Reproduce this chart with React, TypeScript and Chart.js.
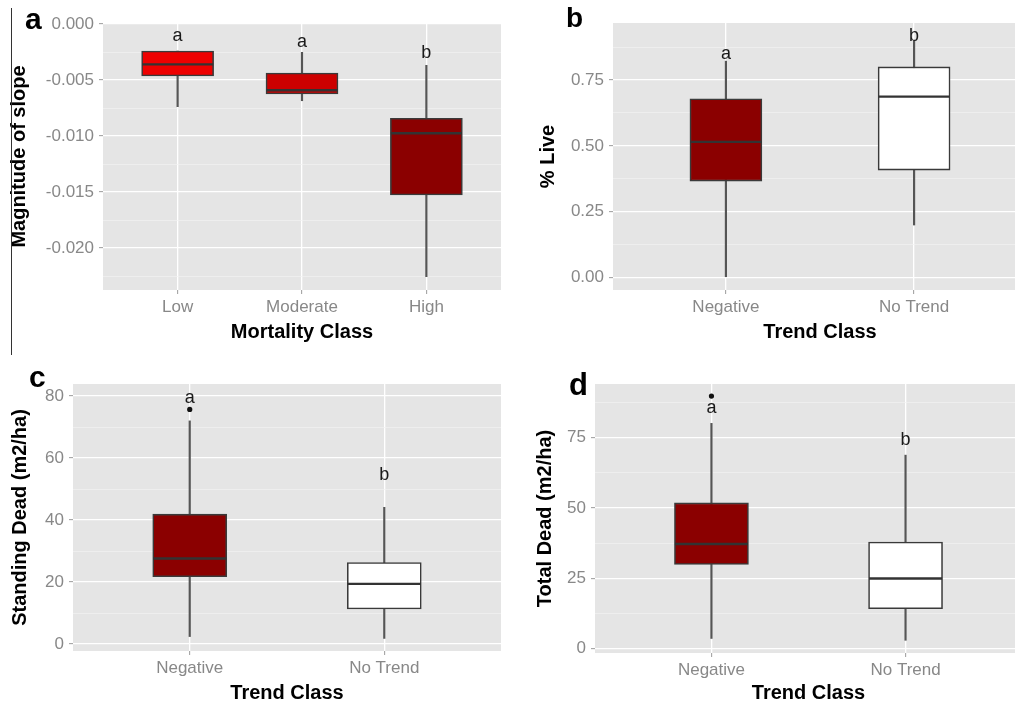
import React, { useEffect, useRef } from "react";
import { Chart, registerables } from "chart.js";

Chart.register(...registerables);

const FONT = "'Liberation Sans', Arial, Helvetica, sans-serif";

// ---- (a) magnitude of slope by mortality class ----
const mortalityClasses = ["Low", "Moderate", "High"];
const slopeWhiskerLow = [-0.00738, -0.00685, -0.02256];
const slopeQ1 = [-0.00464, -0.00625, -0.01527];
const slopeMedian = [-0.0036, -0.00592, -0.00976];
const slopeQ3 = [-0.00241, -0.004375, -0.00842];
const slopeWhiskerHigh = [-0.00241, -0.00253, -0.00369];
const slopeLetters = ["a", "a", "b"];
const slopeLetterY = [-0.00107, -0.00158, -0.00256];
const slopeFills = ["#EE0000", "#CD0000", "#8B0000"];
const slopeTicks = [0, -0.005, -0.01, -0.015, -0.02];
const slopeMinorTicks = [-0.0025, -0.0075, -0.0125, -0.0175, -0.0225];

// ---- shared trend classes for (b), (c), (d) ----
const trendClasses = ["Negative", "No Trend"];
const trendFills = ["#8B0000", "#FFFFFF"];

// ---- (b) % live ----
const liveWhiskerLow = [0.0, 0.199];
const liveQ1 = [0.366, 0.408];
const liveMedian = [0.515, 0.687];
const liveQ3 = [0.679, 0.8];
const liveWhiskerHigh = [0.822, 0.9];
const liveLetters = ["a", "b"];
const liveLetterY = [0.848, 0.917];
const liveTicks = [0, 0.25, 0.5, 0.75];
const liveMinorTicks = [0.125, 0.375, 0.625, 0.875];

// ---- (c) standing dead ----
const standingWhiskerLow = [2.4, 1.8];
const standingQ1 = [21.7, 11.3];
const standingMedian = [27.6, 19.4];
const standingQ3 = [41.9, 26.3];
const standingWhiskerHigh = [72.0, 44.1];
const standingOutliers = [{ x: 0, y: 75.7 }];
const standingLetters = ["a", "b"];
const standingLetterY = [79.3, 54.5];
const standingTicks = [0, 20, 40, 60, 80];
const standingMinorTicks = [10, 30, 50, 70];

// ---- (d) total dead ----
const totalWhiskerLow = [3.6, 2.95];
const totalQ1 = [29.9, 14.2];
const totalMedian = [37.2, 24.9];
const totalQ3 = [51.8, 37.9];
const totalWhiskerHigh = [80.1, 68.8];
const totalOutliers = [{ x: 0, y: 89.8 }];
const totalLetters = ["a", "b"];
const totalLetterY = [85.4, 74.1];
const totalTicks = [0, 25, 50, 75];
const totalMinorTicks = [12.5, 37.5, 62.5, 87.5];

type Frame = {
  left: number;
  top: number;
  w: number;
  h: number;
  padTop: number;
  padRight: number;
  yAxisWidth: number;
  xAxisHeight: number;
  yTitlePad: number;
  xTitlePad: number;
  boxWidth: number;
};

type PanelSpec = {
  categories: string[];
  lo: number[];
  q1: number[];
  med: number[];
  q3: number[];
  hi: number[];
  outliers: { x: number; y: number }[];
  letters: string[];
  letterY: number[];
  fills: string[];
  majorTicks: number[];
  minorTicks: number[];
  yMin: number;
  yMax: number;
  fmt: (v: number) => string;
  yTitle: string;
  xTitle: string;
  frame: Frame;
};

const panelA: PanelSpec = {
  categories: mortalityClasses,
  lo: slopeWhiskerLow,
  q1: slopeQ1,
  med: slopeMedian,
  q3: slopeQ3,
  hi: slopeWhiskerHigh,
  outliers: [],
  letters: slopeLetters,
  letterY: slopeLetterY,
  fills: slopeFills,
  majorTicks: slopeTicks,
  minorTicks: slopeMinorTicks,
  yMin: -0.02375,
  yMax: 0.00009,
  fmt: (v) => v.toFixed(3),
  yTitle: "Magnitude of slope",
  xTitle: "Mortality Class",
  frame: { left: 0, top: 0, w: 505, h: 355, padTop: 23, padRight: 4, yAxisWidth: 103, xAxisHeight: 65, yTitlePad: 7.5, xTitlePad: 11, boxWidth: 72 },
};

const panelB: PanelSpec = {
  categories: trendClasses,
  lo: liveWhiskerLow,
  q1: liveQ1,
  med: liveMedian,
  q3: liveQ3,
  hi: liveWhiskerHigh,
  outliers: [],
  letters: liveLetters,
  letterY: liveLetterY,
  fills: trendFills,
  majorTicks: liveTicks,
  minorTicks: liveMinorTicks,
  yMin: -0.048,
  yMax: 0.967,
  fmt: (v) => v.toFixed(2),
  yTitle: "% Live",
  xTitle: "Trend Class",
  frame: { left: 505, top: 0, w: 522, h: 355, padTop: 23, padRight: 0, yAxisWidth: 108, xAxisHeight: 65, yTitlePad: 31, xTitlePad: 11, boxWidth: 72 },
};

const panelC: PanelSpec = {
  categories: trendClasses,
  lo: standingWhiskerLow,
  q1: standingQ1,
  med: standingMedian,
  q3: standingQ3,
  hi: standingWhiskerHigh,
  outliers: standingOutliers,
  letters: standingLetters,
  letterY: standingLetterY,
  fills: trendFills,
  majorTicks: standingTicks,
  minorTicks: standingMinorTicks,
  yMin: -2.26,
  yMax: 83.9,
  fmt: (v) => String(v),
  yTitle: "Standing Dead (m2/ha)",
  xTitle: "Trend Class",
  frame: { left: 0, top: 355, w: 505, h: 351, padTop: 29, padRight: 4, yAxisWidth: 73, xAxisHeight: 55, yTitlePad: 8.5, xTitlePad: 1, boxWidth: 74 },
};

const panelD: PanelSpec = {
  categories: trendClasses,
  lo: totalWhiskerLow,
  q1: totalQ1,
  med: totalMedian,
  q3: totalQ3,
  hi: totalWhiskerHigh,
  outliers: totalOutliers,
  letters: totalLetters,
  letterY: totalLetterY,
  fills: trendFills,
  majorTicks: totalTicks,
  minorTicks: totalMinorTicks,
  yMin: -1.57,
  yMax: 94.1,
  fmt: (v) => String(v),
  yTitle: "Total Dead (m2/ha)",
  xTitle: "Trend Class",
  frame: { left: 505, top: 355, w: 521, h: 351, padTop: 29, padRight: 0, yAxisWidth: 90, xAxisHeight: 53, yTitlePad: 28, xTitlePad: 1, boxWidth: 74 },
};

const PANEL_BG = "#E5E5E5";
const OUTLINE = "#3A3A3A";

function isMajor(spec: PanelSpec, v: number) {
  return spec.majorTicks.some((m) => Math.abs(m - v) < 1e-9);
}

function buildConfig(spec: PanelSpec): any {
  const f = spec.frame;
  const n = spec.categories.length;

  // panel background, median bars and significance letters
  const overlay = {
    id: "boxOverlay",
    beforeDraw(chart: any) {
      const { ctx, chartArea } = chart;
      ctx.save();
      ctx.fillStyle = PANEL_BG;
      ctx.fillRect(chartArea.left, chartArea.top, chartArea.right - chartArea.left, chartArea.bottom - chartArea.top);
      ctx.restore();
    },
    afterDatasetsDraw(chart: any) {
      const { ctx } = chart;
      const xs = chart.scales.x;
      const ys = chart.scales.y;
      const boxIndex = chart.data.datasets.findIndex((d: any) => d.label === "box");
      const meta = chart.getDatasetMeta(boxIndex);
      ctx.save();
      ctx.strokeStyle = "#333333";
      ctx.lineWidth = 2.4;
      meta.data.forEach((el: any, i: number) => {
        const { x, width } = el.getProps(["x", "width"], true);
        const py = ys.getPixelForValue(spec.med[i]);
        ctx.beginPath();
        ctx.moveTo(x - width / 2 + 0.5, py);
        ctx.lineTo(x + width / 2 - 0.5, py);
        ctx.stroke();
      });
      ctx.fillStyle = "#1A1A1A";
      ctx.font = `18px ${FONT}`;
      ctx.textAlign = "center";
      ctx.textBaseline = "middle";
      spec.letters.forEach((t, i) => {
        ctx.fillText(t, xs.getPixelForValue(i), ys.getPixelForValue(spec.letterY[i]));
      });
      ctx.restore();
    },
  };

  const datasets: any[] = [];
  if (spec.outliers.length) {
    datasets.push({
      type: "scatter",
      label: "outlier",
      data: spec.outliers,
      pointRadius: 2.6,
      pointBackgroundColor: "#111111",
      pointBorderWidth: 0,
      showLine: false,
    });
  }
  datasets.push({
    type: "bar",
    label: "box",
    data: spec.categories.map((_, i) => ({ x: i, y: [spec.q1[i], spec.q3[i]] })),
    backgroundColor: spec.fills,
    borderColor: OUTLINE,
    borderWidth: 1.6,
    borderSkipped: false,
    barThickness: f.boxWidth,
    grouped: false,
  });
  datasets.push({
    type: "bar",
    label: "whisker",
    data: spec.categories.map((_, i) => ({ x: i, y: [spec.lo[i], spec.hi[i]] })),
    backgroundColor: "#555555",
    borderWidth: 0,
    barThickness: 1.5,
    grouped: false,
  });

  const allTicks = [...spec.majorTicks, ...spec.minorTicks].sort((a, b) => a - b);

  return {
    type: "bar",
    data: { datasets },
    plugins: [overlay],
    options: {
      responsive: false,
      animation: false,
      events: [],
      layout: { padding: { left: 0, top: f.padTop, right: f.padRight, bottom: 0 } },
      plugins: { legend: { display: false }, tooltip: { enabled: false } },
      scales: {
        x: {
          type: "linear",
          min: -0.6,
          max: n - 1 + 0.6,
          offset: false,
          afterBuildTicks: (s: any) => {
            s.ticks = spec.categories.map((_, i) => ({ value: i }));
          },
          afterFit: (s: any) => {
            s.height = f.xAxisHeight;
          },
          ticks: {
            autoSkip: false,
            maxRotation: 0,
            padding: 3,
            color: "#888888",
            font: { family: FONT, size: 17 },
            callback: (v: number) => spec.categories[Math.round(v)] ?? "",
          },
          grid: {
            offset: false,
            color: "#FFFFFF",
            lineWidth: 1.3,
            drawTicks: true,
            tickLength: 4,
            tickColor: "#9A9A9A",
            tickWidth: 1,
          },
          border: { display: false },
          title: {
            display: true,
            text: spec.xTitle,
            color: "#000000",
            font: { family: FONT, size: 20, weight: "bold" },
            padding: { top: 0, bottom: f.xTitlePad },
          },
        },
        y: {
          type: "linear",
          min: spec.yMin,
          max: spec.yMax,
          afterBuildTicks: (s: any) => {
            s.ticks = allTicks.map((v) => ({ value: v }));
          },
          afterFit: (s: any) => {
            s.width = f.yAxisWidth;
          },
          ticks: {
            autoSkip: false,
            padding: 5,
            color: "#888888",
            font: { family: FONT, size: 17 },
            callback: (v: number) => (isMajor(spec, v) ? spec.fmt(v) : ""),
          },
          grid: {
            color: (c: any) => (isMajor(spec, c.tick?.value) ? "#FFFFFF" : "#F2F2F2"),
            lineWidth: (c: any) => (isMajor(spec, c.tick?.value) ? 1.3 : 0.7),
            drawTicks: true,
            tickLength: 4,
            tickColor: (c: any) => (isMajor(spec, c.tick?.value) ? "#9A9A9A" : "rgba(0,0,0,0)"),
            tickWidth: 1,
          },
          border: { display: false },
          title: {
            display: true,
            text: spec.yTitle,
            color: "#000000",
            font: { family: FONT, size: 20, weight: "bold" },
            padding: { top: f.yTitlePad, bottom: 0 },
          },
        },
      },
    },
  };
}

function BoxPanel({ spec }: { spec: PanelSpec }) {
  const ref = useRef<HTMLCanvasElement>(null);
  useEffect(() => {
    if (!ref.current) return;
    const chart = new Chart(ref.current, buildConfig(spec));
    return () => chart.destroy();
  }, [spec]);
  const f = spec.frame;
  return (
    <canvas
      ref={ref}
      width={f.w}
      height={f.h}
      style={{ position: "absolute", left: f.left, top: f.top, width: f.w, height: f.h }}
    />
  );
}

const letterStyle = (left: number, top: number, size: number): React.CSSProperties => ({
  position: "absolute",
  left,
  top,
  fontFamily: FONT,
  fontWeight: "bold",
  fontSize: size,
  lineHeight: 1,
  color: "#000",
});

export default function App() {
  return (
    <div
      style={{
        position: "absolute",
        left: 0,
        top: 0,
        width: 1015,
        height: 706,
        overflow: "hidden",
        background: "#FFFFFF",
      }}
    >
      <BoxPanel spec={panelA} />
      <BoxPanel spec={panelB} />
      <BoxPanel spec={panelC} />
      <BoxPanel spec={panelD} />
      <div style={{ position: "absolute", left: 11, top: 8, width: 1, height: 347, background: "#333" }} />
      <div style={letterStyle(25, 3.6, 30)}>a</div>
      <div style={letterStyle(566, 4.3, 28)}>b</div>
      <div style={letterStyle(29, 361.6, 30)}>c</div>
      <div style={letterStyle(569, 368.8, 31)}>d</div>
    </div>
  );
}
